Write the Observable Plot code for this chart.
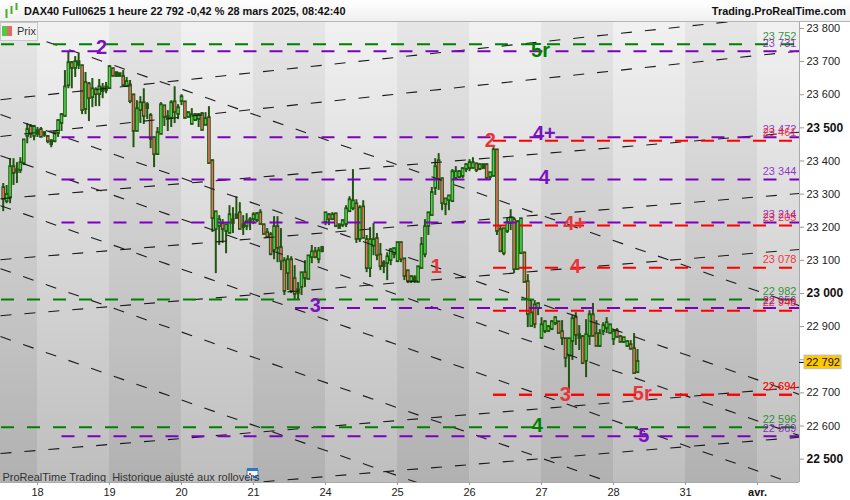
<!DOCTYPE html>
<html>
<head>
<meta charset="utf-8">
<script src="https://cdn.jsdelivr.net/npm/d3@7"></script>
<script src="https://cdn.jsdelivr.net/npm/@observablehq/plot@0.6"></script>
<style>
html,body{margin:0;padding:0;background:#fff;font-family:"Liberation Sans",Arial,sans-serif}
#page{position:relative;width:850px;height:500px;overflow:hidden}
#head{position:relative;height:21px;border-bottom:1px solid #b5b5b5;background:linear-gradient(#ffffff,#f0f0f0);font-weight:bold;font-size:10.9px;color:#111}
#head span{position:absolute;top:5px;white-space:pre}
#head svg{position:absolute;left:4px;top:3px}
#prix{position:absolute;left:0;top:22px;width:36px;height:17px;background:#f1f1f1;border:1px solid #c8c8c8;font-size:11px;color:#333}
#prix i{position:absolute;top:3px;width:5px;height:10px}
#prix span{position:absolute;left:16px;top:2px}
svg{display:block}
</style>
</head>
<body>
<div id="page">
  <div id="head"></div>
  <div id="prix"><i style="left:1px;background:#46d046"></i><i style="left:6px;background:#e46a62"></i><span>Prix</span></div>
  <div id="chart"></div>
</div>
<script>
const titleLeft = "DAX40 Full0625 1 heure 22 792 -0,42 % 28 mars 2025, 08:42:40";
const titleRight = "Trading.ProRealTime.com";
const footNote = "ProRealTime Trading  Historique ajusté aux rollovers";

// Candles per session: [open, high, low, close]
const bars17 = [[23317,23332,23247,23286],[23280,23326,23271,23296],[23292,23407,23271,23380],[23380,23407,23326,23365],[23368,23395,23332,23371],[23374,23410,23362,23392],[23395,23464,23386,23461],[23477,23513,23452,23492],[23501,23510,23468,23483],[23477,23507,23461,23501]];
const bars18 = [[23483,23501,23471,23489],[23492,23501,23471,23474],[23483,23489,23471,23480],[23471,23477,23452,23461],[23458,23464,23440,23452],[23461,23486,23455,23483],[23486,23525,23471,23519],[23516,23543,23489,23537],[23537,23673,23534,23621],[23630,23730,23618,23694],[23694,23700,23618,23682],[23682,23715,23652,23697],[23697,23724,23676,23691],[23685,23688,23540,23555],[23558,23667,23540,23634],[23630,23637,23519,23591],[23594,23649,23561,23615],[23612,23621,23564,23603],[23603,23646,23564,23621],[23612,23634,23588,23618],[23615,23637,23603,23621]];
const bars19 = [[23621,23688,23621,23682],[23676,23676,23655,23658],[23658,23667,23652,23664],[23658,23664,23652,23661],[23652,23673,23627,23630],[23627,23652,23624,23637],[23627,23643,23573,23582],[23597,23597,23440,23492],[23492,23582,23492,23555],[23555,23594,23513,23573],[23573,23618,23510,23537],[23561,23576,23525,23567],[23534,23543,23437,23468],[23468,23468,23380,23422],[23422,23501,23422,23483],[23483,23576,23483,23567],[23564,23567,23504,23534],[23528,23552,23489,23531],[23531,23582,23501,23573],[23576,23624,23513,23549],[23543,23570,23525,23558]];
const bars20 = [[23582,23600,23567,23591],[23576,23579,23531,23531],[23534,23549,23531,23543],[23513,23558,23513,23537],[23525,23543,23519,23537],[23528,23543,23501,23537],[23540,23546,23492,23495],[23510,23546,23510,23525],[23528,23564,23392,23395],[23398,23404,23184,23229],[23196,23244,23060,23244],[23205,23235,23145,23220],[23208,23223,23151,23196],[23190,23205,23120,23205],[23184,23265,23181,23235],[23214,23259,23181,23220],[23229,23292,23226,23235],[23241,23274,23196,23196],[23202,23235,23175,23205],[23205,23241,23190,23214],[23217,23229,23190,23220],[23226,23244,23208,23235]];
const bars21 = [[23223,23244,23214,23238],[23241,23253,23211,23211],[23205,23205,23181,23181],[23181,23196,23169,23172],[23175,23184,23114,23120],[23133,23232,23102,23199],[23199,23232,23093,23139],[23136,23196,23069,23099],[23096,23108,22994,23009],[23063,23114,23009,23099],[23099,23111,23000,23009],[23042,23084,22979,23000],[23003,23033,22979,23009],[23021,23063,22994,23060],[23060,23099,23018,23048],[23045,23114,23045,23111],[23111,23145,23090,23123],[23123,23139,23105,23111],[23105,23139,23090,23126],[23129,23142,23123,23136]];
const bars24 = [[23217,23244,23205,23241],[23235,23241,23205,23226],[23226,23244,23220,23235],[23238,23241,23199,23205],[23199,23208,23196,23205],[23208,23223,23199,23217],[23211,23265,23199,23253],[23250,23292,23244,23280],[23259,23374,23250,23277],[23268,23283,23151,23166],[23166,23265,23154,23256],[23259,23280,23166,23169],[23160,23175,23063,23078],[23078,23199,23048,23160],[23145,23211,23114,23160],[23163,23181,23099,23117],[23114,23151,23069,23084],[23084,23099,23060,23090],[23093,23123,23039,23108],[23102,23136,23084,23129],[23120,23136,23105,23133]];
const bars25 = [[23099,23154,23093,23151],[23151,23151,23093,23105],[23102,23105,23039,23054],[23066,23069,23030,23039],[23039,23054,23030,23048],[23039,23054,23030,23045],[23036,23081,23033,23078],[23078,23169,23075,23145],[23120,23223,23108,23199],[23205,23244,23175,23241],[23238,23320,23235,23302],[23320,23407,23296,23380],[23398,23422,23311,23347],[23344,23347,23250,23274],[23271,23286,23235,23283],[23283,23296,23250,23292],[23280,23374,23277,23365],[23350,23383,23341,23365],[23353,23371,23347,23365],[23356,23380,23347,23374],[23377,23392,23365,23386]];
const bars26 = [[23380,23404,23368,23392],[23380,23410,23377,23392],[23389,23392,23365,23374],[23377,23392,23371,23386],[23380,23392,23374,23386],[23386,23392,23347,23350],[23353,23365,23341,23362],[23356,23440,23356,23431],[23431,23434,23175,23190],[23190,23205,23123,23129],[23123,23196,23114,23193],[23190,23229,23181,23211],[23214,23253,23190,23226],[23220,23229,23060,23075],[23075,23220,23072,23214],[23123,23226,23120,23223],[23120,23123,23033,23036],[23033,23057,22897,22939],[22903,22979,22903,22939],[22963,22979,22894,22909],[22957,22967,22933,22967]];
const bars27 = [[22867,22927,22864,22903],[22888,22918,22879,22912],[22888,22903,22882,22897],[22894,22918,22888,22912],[22912,22930,22903,22924],[22912,22912,22882,22882],[22882,22918,22843,22867],[22861,22864,22776,22807],[22813,22864,22698,22861],[22858,22933,22798,22921],[22924,22942,22843,22876],[22867,22903,22828,22873],[22867,22873,22791,22791],[22798,22921,22746,22873],[22873,22948,22843,22933],[22933,22970,22873,22873],[22876,22918,22840,22843],[22843,22891,22837,22876],[22888,22912,22873,22900],[22897,22927,22879,22909],[22882,22906,22882,22903]];
const bars28 = [[22864,22888,22843,22882],[22885,22894,22867,22870],[22867,22873,22852,22855],[22855,22867,22849,22864],[22843,22858,22837,22852],[22843,22858,22831,22834],[22831,22879,22758,22761],[22764,22831,22758,22792]];

const sessions = [bars17,bars18,bars19,bars20,bars21,bars24,bars25,bars26,bars27,bars28];
const sessionIndex = [-1,0,1,2,3,4,5,6,7,8];
const sessionShift = [11,0,0,0,1,0,0,0,0,0];
const barsPerSession = 21;

// Levels
const greenLevels = [23752,22982,22596];
const purpleLevels = [23731,23472,23344,23214,22956,22569];
const purpleStart = [0.34,0.34,0.34,0.34,3.583,0.34];
const redLevels = [23461,23205,23078,22948,22694,22694];

// Dashed trend lines: [start day, start price, end day, end price]
const fallingLines = [[0.125,23760,10.583,22963],[-0.514,23540,10.583,22695],[-0.514,23416,10.583,22571],[-0.514,23265,10.583,22420],[-0.514,23075,10.583,22230],[-0.514,22870,10.583,22025]];
const risingLines = [[-0.514,23585,10.583,23843],[-0.514,23474,10.583,23732],[-0.514,23286,10.583,23487],[-0.514,23102,10.583,23302],[-0.514,22933,10.583,23133],[-0.514,22517,10.583,22717],[-0.514,22366,10.583,22566]];

// Wave annotations
const waveText  = ["2","5r","4+","4","2","4+","4","1","3","3","5r","4","5"];
const waveDay   = [0.889,6.986,7.04,7.04,6.29,7.46,7.47,5.54,3.86,7.33,8.40,6.94,8.42];
const wavePrice = [23742,23733,23483,23350,23461,23211,23081,23081,22963,22695,22698,22601,22571];
const waveKind  = ["p","g","p","p","r","r","r","r","p","r","r","g","p"];

// Axes
const priceTicks = [23800,23700,23600,23400,23300,23200,23100,22900,22800,22700,22600];
const priceTicksBold = [23500,23000,22500];
const dayLabels = ["18","19","20","21","24","25","26","27","28","31"];
const dayPositions = [0,1,2,3,4,5,6,7,8,9];
const monthLabel = "avr.";
const monthPosition = 10;
const lastPrice = 22792;

// Background day bands
const lightBands = [0,2,4,6,8,10];
const darkBands = [-1,1,3,5,7,9];

const xMin = -0.5139, xMax = 10.583;
const waveColor = {p:"#7b12bf", g:"#008000", r:"#e8353a"};
const fmt = v => { const s = String(v); return s.slice(0,2)+" "+s.slice(2); };

const candles = sessions.flatMap((s,k) => s.map((b,j) => ({
  x: sessionIndex[k] + (j + sessionShift[k]) / barsPerSession,
  o:b[0], h:b[1], l:b[2], c:b[3]
})));
const band = (start) => ({x1:Math.max(start, xMin), x2:Math.min(start+1, xMax)});
const levelRows = (vals, color, starts) => vals.map((v,i)=>({v, color, start:starts[i]}));
const greens = levelRows(greenLevels,"#008000",greenLevels.map(()=>-0.5));
const purples = levelRows(purpleLevels,"#7d00c0",purpleStart);
const reds = levelRows(redLevels,"#ff0000",redLevels.map(()=>6.333));
const levels = [...greens,...purples,...reds];
const waves = waveText.map((t,i)=>({t,x:waveDay[i],y:wavePrice[i],k:waveKind[i]}));
const trend = [...fallingLines,...risingLines];

const gradients = () => {
  const defs = d3.create("svg:defs");
  const add = (id,a,b) => {
    const g = defs.append("linearGradient").attr("id",id).attr("x1",0).attr("y1",0).attr("x2",0).attr("y2",1);
    g.append("stop").attr("offset","0").attr("stop-color",a);
    g.append("stop").attr("offset","1").attr("stop-color",b);
  };
  add("bandLight","#f1f1f1","#bebebe");
  add("bandDark","#e6e6e6","#b1b1b1");
  return defs.node();
};
const calendarIcon = () => {
  const g = d3.create("svg:g").attr("transform","translate(247,446)");
  g.append("rect").attr("x",0).attr("y",2).attr("width",11).attr("height",9).attr("fill","#f4f4f4").attr("stroke","#3a7fc8").attr("stroke-width",1);
  g.append("rect").attr("x",0).attr("y",0).attr("width",11).attr("height",3).attr("fill","#2a78c8");
  g.append("rect").attr("x",2).attr("y",5).attr("width",2).attr("height",2).attr("fill","#e04040");
  g.append("rect").attr("x",6).attr("y",8).attr("width",4).attr("height",2).attr("fill","#2a78c8");
  return g.node();
};

const body = d => d.o >= d.c ? d.o : d.c;
const bodyLow = d => d.o >= d.c ? d.c : d.o;
const filled = candles.filter(d => Math.abs(d.o-d.c) >= 8);

const plot = Plot.plot({
  width:850, height:478,
  marginLeft:0, marginRight:51, marginTop:0, marginBottom:18,
  x:{type:"linear", domain:[xMin,xMax], axis:null},
  y:{type:"linear", domain:[22429.5,23818], axis:null},
  style:{fontFamily:"'Liberation Sans',Arial,sans-serif", fontSize:"11px", background:"transparent", overflow:"visible"},
  marks:[
    gradients,
    Plot.rect(lightBands.map(band),{x1:"x1",x2:"x2",y1:22429.5,y2:23818,fill:"url(#bandLight)"}),
    Plot.rect(darkBands.map(band),{x1:"x1",x2:"x2",y1:22429.5,y2:23818,fill:"url(#bandDark)"}),
    Plot.ruleX(candles,{x:"x",y1:"l",y2:"h",stroke:"#225510",strokeWidth:2}),
    Plot.ruleX(candles,{x:"x",y1:bodyLow,y2:body,stroke:"#225510",strokeWidth:3.6,strokeLinecap:"square"}),
    Plot.ruleX(filled,{x:"x",y1:bodyLow,y2:body,stroke:d=>d.c>=d.o?"#46d646":"#e8705f",strokeWidth:1.6}),
    Plot.link(trend,{x1:d=>d[0],y1:d=>d[1],x2:d=>d[2],y2:d=>d[3],stroke:"#1a1a1a",strokeWidth:1.1,strokeDasharray:"11,13",clip:"frame"}),
    Plot.ruleY(levels,{y:"v",x1:"start",x2:xMax,stroke:"color",strokeWidth:2,strokeDasharray:"13,13"}),
    Plot.text(levels,{x:10.54,y:"v",text:d=>fmt(d.v),fill:"color",fillOpacity:0.8,textAnchor:"end",dy:-8,fontSize:11}),
    Plot.text(waves,{x:"x",y:"y",text:"t",fill:d=>waveColor[d.k],fontWeight:"bold",fontSize:20,textAnchor:"middle"}),
    calendarIcon,
    Plot.text([footNote],{frameAnchor:"bottom-left",dx:2,dy:-1.5,fill:"#333",fontSize:11}),
    Plot.ruleX([xMax],{stroke:"#aaaaaa",strokeWidth:1}),
    Plot.ruleY([22429.5],{stroke:"#aaaaaa",strokeWidth:1}),
    Plot.axisY({anchor:"right",ticks:priceTicks,tickFormat:fmt,tickSize:4,tickPadding:3,label:null,stroke:"#999",fill:"#222",fontSize:11}),
    Plot.axisY({anchor:"right",ticks:priceTicksBold,tickFormat:fmt,tickSize:4,tickPadding:3,label:null,stroke:"#999",fill:"#111",fontSize:12,fontWeight:"bold"}),
    Plot.axisX({anchor:"bottom",ticks:dayPositions,tickFormat:i=>dayLabels[i],tickSize:3,tickPadding:3,label:null,stroke:"#999",fill:"#222",fontSize:11}),
    Plot.axisX({anchor:"bottom",ticks:[monthPosition],tickFormat:()=>monthLabel,tickSize:3,tickPadding:3,label:null,stroke:"#999",fill:"#111",fontSize:11,fontWeight:"bold"}),
    Plot.ruleY([lastPrice],{x1:xMax,x2:10.653,stroke:"#000",strokeWidth:1}),
    Plot.rect([lastPrice],{x1:10.653,x2:11.167,y1:d=>d-20.5,y2:d=>d+20.5,fill:"#ffc800",stroke:"#bdbdbd",strokeWidth:1}),
    Plot.text([lastPrice],{x:10.91,y:d=>d,text:fmt,fill:"#111",fontSize:11,textAnchor:"middle"})
  ]
});
document.getElementById("chart").appendChild(plot);

const head = document.getElementById("head");
head.innerHTML = '<svg width="16" height="16"><rect x="1.5" y="6" width="2" height="9" fill="#46b020"/><rect x="6.5" y="3" width="2" height="8" fill="#46b020"/><rect x="11.5" y="0" width="2" height="7" fill="#46b020"/></svg>';
const left = document.createElement("span"); left.style.left="24px"; left.textContent=titleLeft; head.appendChild(left);
const right = document.createElement("span"); right.style.right="4px"; right.textContent=titleRight; head.appendChild(right);
</script>
</body>
</html>
